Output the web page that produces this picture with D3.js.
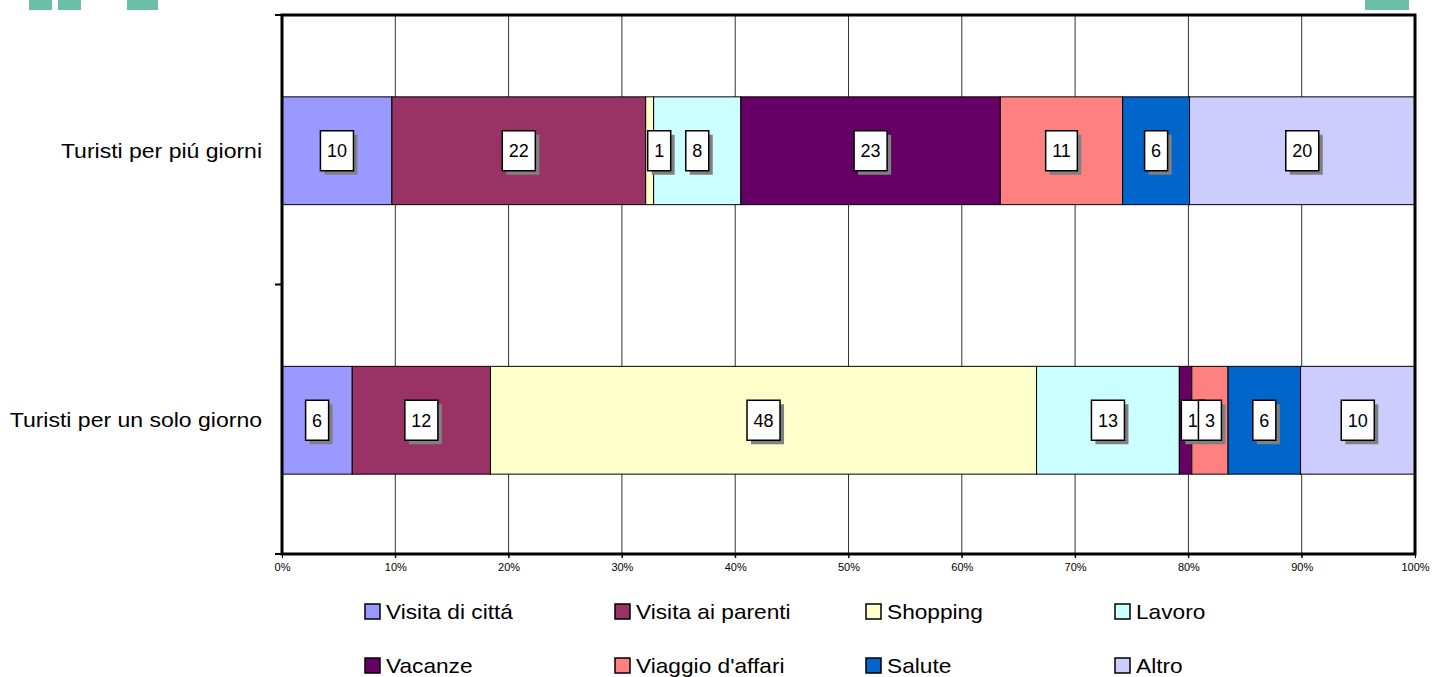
<!DOCTYPE html>
<html>
<head>
<meta charset="utf-8">
<script src="https://cdn.jsdelivr.net/npm/d3@7"></script>
<style>
body{margin:0;background:#fff;}
text{font-family:Arial,"Liberation Sans",sans-serif;}
</style>
</head>
<body>
<svg id="chart" width="1434" height="677"></svg>
<script>
(function(){
"use strict";

// data (percent of each row)
const categories = ["Turisti per piú giorni", "Turisti per un solo giorno"];
const seriesNames = ["Visita di cittá", "Visita ai parenti", "Shopping", "Lavoro",
                     "Vacanze", "Viaggio d'affari", "Salute", "Altro"];
const moreDays = [9.7, 22.4, 0.7, 7.7, 22.9, 10.8, 5.9, 19.9];
const oneDay   = [6.2, 12.2, 48.2, 12.6, 1.1, 3.2, 6.4, 10.1];
const moreDaysLabels = [10, 22, 1, 8, 23, 11, 6, 20];
const oneDayLabels   = [6, 12, 48, 13, 1, 3, 6, 10];
const colors = ["#9999FF", "#993366", "#FFFFCC", "#CCFFFF", "#660066", "#FF8080", "#0066CC", "#CCCCFF"];
const xTicks = [0, 10, 20, 30, 40, 50, 60, 70, 80, 90, 100];

const rows = [
  {cat: categories[0], vals: moreDays, labels: moreDaysLabels},
  {cat: categories[1], vals: oneDay, labels: oneDayLabels}
];

const margin = {top: 15, left: 282, right: 19, bottom: 123};
const width = 1434 - margin.left - margin.right;
const height = 677 - margin.top - margin.bottom;

const svg = d3.select("#chart");

// widen text a bit like the original rendering
function stretch(sel, f){
  sel.each(function(){
    const w = this.getComputedTextLength();
    d3.select(this).attr("textLength", w * f).attr("lengthAdjust", "spacingAndGlyphs");
  });
}

// decorative green blocks at the top edge
const deco = [[29, 23], [58, 23], [127, 31], [1365, 44]];
svg.selectAll("rect.deco").data(deco).enter().append("rect")
  .attr("class", "deco")
  .attr("x", d => d[0]).attr("y", 0).attr("width", d => d[1]).attr("height", 10)
  .attr("fill", "#6ABFA5");

const chart = svg.append("g").attr("transform", "translate(" + margin.left + "," + margin.top + ")");

const x = d3.scaleLinear().domain([0, 100]).range([0, width]);
const y = d3.scaleBand().domain(categories).range([0, height]).paddingInner(0.6).paddingOuter(0.3);

// grid
chart.selectAll("line.grid").data(xTicks.slice(1, -1)).enter().append("line")
  .attr("class", "grid")
  .attr("x1", d => x(d)).attr("x2", d => x(d))
  .attr("y1", 0).attr("y2", height + 4)
  .attr("stroke", "#333").attr("stroke-width", 1);

// bars
rows.forEach(r => {
  let sum = 0;
  const stack = r.vals.map((v, i) => {
    const s = {x0: sum, x1: sum + v, v: v, label: r.labels[i], c: colors[i]};
    sum += v;
    return s;
  });
  const g = chart.append("g");
  g.selectAll("rect").data(stack).enter().append("rect")
    .attr("x", d => x(d.x0)).attr("width", d => x(d.x1) - x(d.x0))
    .attr("y", y(r.cat) + 1).attr("height", y.bandwidth())
    .attr("fill", d => d.c).attr("stroke", "#000").attr("stroke-width", 1);

  const cy = y(r.cat) + 1 + y.bandwidth() / 2;
  const lab = g.selectAll("g.lab").data(stack).enter().append("g").attr("class", "lab");
  lab.each(function(d){
    const sel = d3.select(this);
    const t = sel.append("text").text(d.label)
      .attr("font-size", "18px").attr("text-anchor", "middle").attr("dy", "0.35em");
    const tw = t.node().getComputedTextLength();
    const bw = tw + 13, bh = 40;
    let cx = (x(d.x0) + x(d.x1)) / 2;
    if (cx - bw / 2 < x(d.x0) + 2) cx = x(d.x0) + 2 + bw / 2;
    t.attr("x", cx).attr("y", cy);
    sel.insert("rect", "text")
      .attr("x", cx - bw / 2 + 4).attr("y", cy - bh / 2 + 4)
      .attr("width", bw).attr("height", bh).attr("fill", "#808080");
    sel.insert("rect", "text")
      .attr("x", cx - bw / 2).attr("y", cy - bh / 2)
      .attr("width", bw).attr("height", bh)
      .attr("fill", "#fff").attr("stroke", "#000").attr("stroke-width", 1.5);
  });
});

// frame
chart.append("rect").attr("x", 0).attr("y", 0).attr("width", width).attr("height", height)
  .attr("fill", "none").attr("stroke", "#000").attr("stroke-width", 3);

// x axis
const xaxis = d3.axisBottom(x).tickValues(xTicks).tickSize(4).tickFormat(d => d + "%");
const xg = chart.append("g").attr("transform", "translate(0," + height + ")").call(xaxis);
xg.select(".domain").remove();
xg.selectAll(".tick line").attr("stroke", "#000");
xg.selectAll(".tick text").attr("font-size", "11px").attr("font-family", "Arial, sans-serif")
  .attr("fill", "#000").attr("dy", "0.9em");

// y ticks at band boundaries
chart.selectAll("line.ytick").data([0, height / 2, height]).enter().append("line")
  .attr("x1", -7).attr("x2", 0).attr("y1", d => d).attr("y2", d => d)
  .attr("stroke", "#000").attr("stroke-width", 2);

// category labels
chart.selectAll("text.cat").data(categories).enter().append("text")
  .attr("x", -20).attr("y", d => y(d) + 1 + y.bandwidth() / 2).attr("dy", "0.35em")
  .attr("text-anchor", "end").attr("font-size", "20px").text(d => d)
  .call(stretch, 1.15);

// legend
const legCols = [365, 615, 866, 1115];
const legRows = [611, 665];
const leg = svg.append("g");
seriesNames.forEach((n, i) => {
  const lx = legCols[i % 4], ly = legRows[Math.floor(i / 4)];
  leg.append("rect").attr("x", lx).attr("y", ly - 7).attr("width", 15).attr("height", 15)
    .attr("fill", colors[i]).attr("stroke", "#000").attr("stroke-width", 1.5);
  leg.append("text").attr("x", lx + 21).attr("y", ly).attr("dy", "0.36em")
    .attr("font-size", "21px").text(n)
    .call(stretch, 1.08);
});

})();
</script>
</body>
</html>
